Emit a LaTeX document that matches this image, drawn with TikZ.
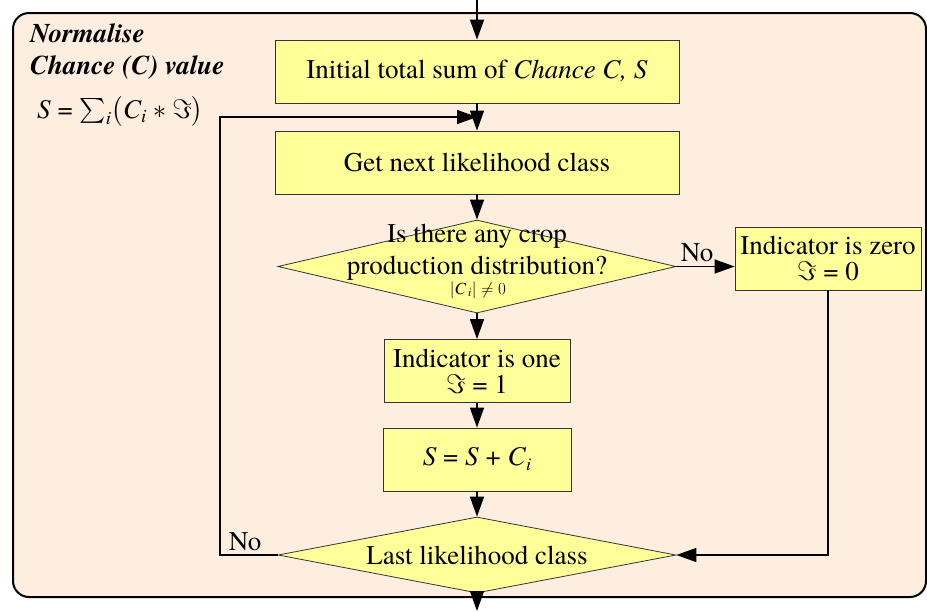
\documentclass[tikz,border=0pt]{standalone}
\usepackage{fix-cm}
\usepackage{amsmath}
\usepackage{fontspec}
\setmainfont{texgyretermes}[Extension=.otf, UprightFont=*-regular, BoldFont=*-bold, ItalicFont=*-italic, BoldItalicFont=*-bolditalic]
\usetikzlibrary{shapes.geometric,arrows.meta,calc}
\definecolor{peach}{HTML}{FEEEDF}
\definecolor{boxyellow}{HTML}{FFFF99}
\begin{document}
\begin{tikzpicture}[x=1pt,y=-1pt,
 every node/.style={font=\fontsize{27}{26}\selectfont},
 titletext/.style={font=\fontsize{27}{32}\selectfont\bfseries\itshape, anchor=base west, inner sep=0pt},
 procbox/.style={draw=black!80, line width=0.8pt, fill=boxyellow, inner sep=0pt, align=center, minimum height=63pt},
 decbox/.style={draw=black!80, line width=0.8pt, fill=boxyellow, shape=diamond, inner sep=0pt, minimum width=398pt},
 flow/.style={line width=1.4pt, -{Triangle[length=20pt,width=14pt]}},
 ]
\useasboundingbox (0,0) rectangle (927,611);
\draw[line width=2pt, rounded corners=16pt, fill=peach] (13,13) rectangle (926,597);

\node[titletext] (t1) at (30,42) {Normalise};
\node[titletext] (t2) at (30,74) {Chance (C) value};
\node[anchor=base west, inner sep=0pt] (f) at (37,118) {\textit{S} = $\sum_{\textit{i}}\bigl(\textit{C}_{\textit{i}} * \Im\bigr)$};

\node[procbox, minimum width=404pt] (b1) at (477,71.5) {Initial total sum of \textit{Chance C, S}};
\node[procbox, minimum width=404pt] (b2) at (477,162.5) {Get next likelihood class};
\node[decbox, minimum height=93pt] (d1) at (477,266.5) {};
\node[align=center, font=\fontsize{27}{32}\selectfont] (d1t) at (477,252) {Is there any crop\\production distribution?};
\node[font=\fontsize{17}{20}\selectfont] (d1f) at (478,290) {$\left|\textit{C}_{\,\textit{i}}\right| \ne 0$};
\node[procbox, minimum width=186pt] (zero) at (828,258.5) {Indicator is zero\\$\Im$ = 0};
\node[procbox, minimum width=186pt] (one) at (477,371) {Indicator is one\\$\Im$ = 1};
\node[procbox, minimum width=188pt] (sum) at (477,459.5) {\textit{S} = \textit{S} + \textit{C}\raisebox{-0.4ex}{\fontsize{18}{18}\selectfont\textit{i}}};
\node[decbox, minimum height=76pt] (d2) at (477,555) {};
\node (d2t) at (d2) {Last likelihood class};

\node (no1) at (697,253) {No};
\node (no2) at (245,542) {No};

\coordinate (top) at (477,0);
\coordinate (bot) at (477,611);
\coordinate (lp) at (220,555);
\coordinate (m) at ($(b1.south)!0.5!(b2.north)$);

\draw[flow] (top) -- (b1.north);
\draw[flow] (b1.south) -- (b2.north);
\draw[flow] (b2.south) -- (d1.north);
\draw[flow] (d1.south) -- (one.north);
\draw[flow] (one.south) -- (sum.north);
\draw[flow] (sum.south) -- (d2.north);
\draw[flow] (d2.south) -- (bot);
\draw[flow] (d1.east) -- (d1.east -| zero.west);
\draw[flow] (zero.south) |- (d2.east);
\draw[flow] (d2.west) -- (lp) |- (m);
\end{tikzpicture}
\end{document}
